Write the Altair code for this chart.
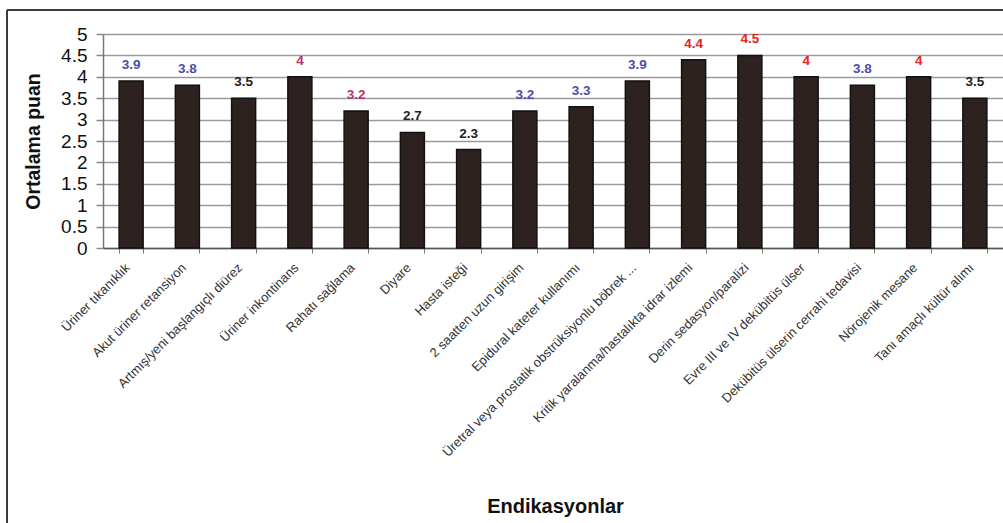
import altair as alt
import pandas as pd

categories = [
    "Üriner tıkanıklık",
    "Akut üriner retansiyon",
    "Artmış/yeni başlangıçlı diürez",
    "Üriner inkontinans",
    "Rahatı sağlama",
    "Diyare",
    "Hasta isteği",
    "2 saatten uzun girişim",
    "Epidural kateter kullanımı",
    "Üretral veya prostatik obstrüksiyonlu böbrek ...",
    "Kritik yaralanma/hastalıkta idrar izlemi",
    "Derin sedasyon/paralizi",
    "Evre III ve IV dekübitüs ülser",
    "Dekübitüs ülserin cerrahi tedavisi",
    "Nörojenik mesane",
    "Tanı amaçlı kültür alımı",
]
values = [3.9, 3.8, 3.5, 4, 3.2, 2.7, 2.3, 3.2, 3.3, 3.9, 4.4, 4.5, 4, 3.8, 4, 3.5]
groups = ["g1", "g1", "g0", "g2", "g2", "g0", "g0", "g1", "g1", "g1",
          "g3", "g3", "g3", "g1", "g3", "g0"]
y_ticks = [0, 0.5, 1, 1.5, 2, 2.5, 3, 3.5, 4, 4.5, 5]

df = pd.DataFrame({"cat": categories, "val": values, "grp": groups})
df["lbl"] = [f"{v:g}" for v in values]

FONT = "Liberation Sans"
W, H = 900, 214

x_enc = alt.X(
    "cat:N",
    sort=categories,
    scale=alt.Scale(paddingInner=0.573, paddingOuter=0.2865),
    axis=alt.Axis(
        title="Endikasyonlar",
        titleFont=FONT, titleFontSize=20, titleFontWeight="bold", titleColor="#111",
        titleY=264, titleBaseline="alphabetic", titleX=452,
        labelAngle=-45, labelFont=FONT, labelFontSize=13, labelColor="#333",
        labelLimit=400, labelPadding=8, labelOverlap=False, labelOffset=-8,
        tickBand="extent", tickSize=5, tickColor="#777", tickWidth=1,
        domainColor="#555", domainWidth=1.5, grid=False,
    ),
)
y_enc = alt.Y(
    "val:Q",
    scale=alt.Scale(domain=[0, 5], nice=False, zero=True),
    axis=alt.Axis(
        title="Ortalama puan",
        titleFont=FONT, titleFontSize=19.5, titleFontWeight="bold", titleColor="#111",
        titleX=-70, titleY=H / 2, titleBaseline="middle", titleAngle=-90,
        values=y_ticks, format="~g", labelOverlap=False,
        labelFont=FONT, labelFontSize=19, labelColor="#111", labelPadding=9,
        tickSize=7, tickColor="#888", tickWidth=1.5,
        domainColor="#777", domainWidth=1.5,
        grid=True, gridColor="#9a9a9a", gridWidth=1.5,
    ),
)

base = alt.Chart(df).encode(x=x_enc, y=y_enc)

bars = base.mark_bar(color="#2e2220", stroke="#111", strokeWidth=1.5)

text = base.mark_text(
    font=FONT, fontSize=13.5, fontWeight="bold", dy=-12, baseline="alphabetic"
).encode(
    text="lbl:N",
    color=alt.Color(
        "grp:N",
        scale=alt.Scale(domain=["g0", "g1", "g2", "g3"],
                        range=["#222222", "#4d4ea3", "#b0336e", "#e8231c"]),
        legend=None,
    ),
)

frame_df = pd.DataFrame({"k": [0]})
left_border = alt.Chart(frame_df).mark_rule(color="#3c3c3c", strokeWidth=2).encode(
    x=alt.value(-96), y=alt.value(-24), y2=alt.value(489)
)
top_border = alt.Chart(frame_df).mark_rule(color="#3c3c3c", strokeWidth=2).encode(
    x=alt.value(-96), x2=alt.value(900), y=alt.value(-24)
)

chart = alt.layer(bars, text, left_border, top_border).properties(
    width=W, height=H,
    autosize=alt.AutoSizeParams(type="none"),
    padding={"left": 103, "top": 34, "right": 0, "bottom": 275},
    background="white",
).configure_view(stroke=None)

chart.save("out.html", embed_options={"renderer": "svg", "actions": False})
